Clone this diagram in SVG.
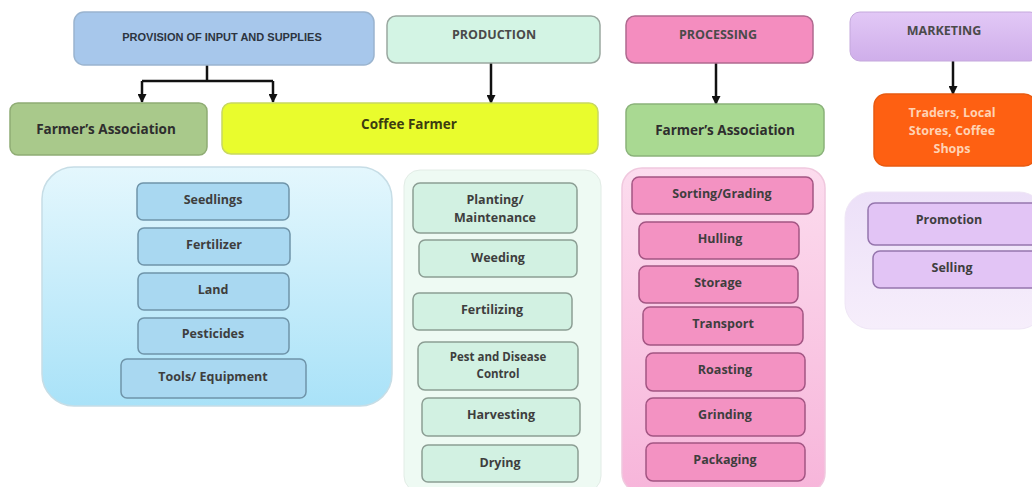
<svg xmlns="http://www.w3.org/2000/svg" width="1032" height="487" viewBox="0 0 1032 487">
<defs>
<linearGradient id="gBlue" x1="0" y1="0" x2="0" y2="1"><stop offset="0" stop-color="#e4f7fd"/><stop offset="1" stop-color="#a9e2f8"/></linearGradient>
<linearGradient id="gPink" x1="0" y1="0" x2="0" y2="1"><stop offset="0" stop-color="#fcdcee"/><stop offset="1" stop-color="#f7b5da"/></linearGradient>
<linearGradient id="gLav" x1="0" y1="0" x2="0" y2="1"><stop offset="0" stop-color="#ece0f8"/><stop offset="1" stop-color="#f6eefb"/></linearGradient>
<linearGradient id="gMkt" x1="0" y1="0" x2="0" y2="1"><stop offset="0" stop-color="#e2c8f6"/><stop offset="1" stop-color="#cfaeea"/></linearGradient>
<marker id="ah" viewBox="0 0 10 10" refX="9" refY="5" markerWidth="10" markerHeight="9" markerUnits="userSpaceOnUse" orient="auto">
<path d="M0,0 L10,5 L0,10 Z" fill="#111"/>
</marker>
</defs>
<style>
text{font-family:"Open Sans","Liberation Sans",sans-serif;font-weight:700;fill:#3e3e3e;text-anchor:middle;dominant-baseline:central;font-size:12.5px}
.hdr{font-family:"Liberation Sans",Arial,sans-serif;font-size:11px;fill:#2c3440}
.cap{font-size:12.5px;fill:#4a4a4a}
.big{font-size:13.5px;fill:#2e2e2e}
.olive{fill:#3c3c10}
.wt{fill:#ffd2b4;font-size:12.5px}
.conn{stroke:#111;stroke-width:2.5;fill:none}
.bItem{fill:#a9d8f1;stroke:#6f94a9;stroke-width:1.5}
.gItem{fill:#d2f1e2;stroke:#8c9e94;stroke-width:1.5}
.pItem{fill:#f392c2;stroke:#a35583;stroke-width:1.5}
.lItem{fill:#e2c4f5;stroke:#9575ad;stroke-width:1.5}
</style>

<g id="containers">
<rect id="blueBox" x="42" y="167" width="350" height="239" rx="32" fill="url(#gBlue)" stroke="#c6dde6" stroke-width="1.5"/>
<rect id="greenBox" x="404" y="170" width="197" height="322" rx="16" fill="#eefaf3" stroke="#e2ece6" stroke-width="1"/>
<rect id="pinkBox" x="622" y="168" width="203" height="325" rx="20" fill="url(#gPink)" stroke="#f0c8de" stroke-width="1.5"/>
<rect id="lavBox" x="845" y="192" width="200" height="137" rx="26" fill="url(#gLav)" stroke="#efe6f6" stroke-width="1"/>
</g>

<g id="connectors">
<path class="conn" d="M207,65 V81"/>
<path class="conn" d="M142,81 H273"/>
<path class="conn" d="M142,81 V102" marker-end="url(#ah)"/>
<path class="conn" d="M273,81 V102" marker-end="url(#ah)"/>
<path class="conn" d="M491,63 V103" marker-end="url(#ah)"/>
<path class="conn" d="M716,63 V104" marker-end="url(#ah)"/>
<path class="conn" d="M953,61 V94" marker-end="url(#ah)"/>
</g>

<g id="provision"><rect x="74" y="12" width="300" height="53" rx="10" fill="#a7c7eb" stroke="#9ab4cf" stroke-width="1.5"/><text class="hdr" x="222" y="37">PROVISION OF INPUT AND SUPPLIES</text></g>
<g id="production"><rect x="387" y="16" width="213" height="47" rx="9" fill="#d3f4e4" stroke="#9aa8a0" stroke-width="1.5"/><text class="cap" x="494" y="34">PRODUCTION</text></g>
<g id="processing"><rect x="626" y="16" width="187" height="47" rx="9" fill="#f48dbf" stroke="#b06a90" stroke-width="1.5"/><text class="cap" x="718" y="34">PROCESSING</text></g>
<g id="marketing"><rect x="850" y="12" width="190" height="49" rx="10" fill="url(#gMkt)" stroke="#c4a8dc" stroke-width="1"/><text class="cap" x="944" y="30">MARKETING</text></g>

<g id="farmersAssoc1"><rect x="10" y="103" width="197" height="52" rx="8" fill="#a9c98b" stroke="#8fac74" stroke-width="1.5"/><text class="big" x="106" y="129">Farmer’s Association</text></g>
<g id="coffeeFarmer"><rect x="222" y="103" width="376" height="51" rx="9" fill="#e9fc2d" stroke="#c8d860" stroke-width="1.5"/><text class="big olive" x="409" y="124">Coffee Farmer</text></g>
<g id="farmersAssoc2"><rect x="626" y="104" width="198" height="52" rx="8" fill="#a9d992" stroke="#8ab27a" stroke-width="1.5"/><text class="big" x="725" y="130">Farmer’s Association</text></g>
<g id="traders"><rect x="874" y="94" width="162" height="72" rx="12" fill="#fe6012" stroke="#e85a10" stroke-width="1.5"/><text class="wt" x="952" y="112">Traders, Local</text><text class="wt" x="952" y="130">Stores, Coffee</text><text class="wt" x="952" y="148">Shops</text></g>

<g id="seedlings"><rect class="bItem" x="137" y="183" width="152" height="37" rx="6"/><text x="213" y="199">Seedlings</text></g>
<g id="fertilizer"><rect class="bItem" x="138" y="228" width="152" height="37" rx="6"/><text x="214" y="244">Fertilizer</text></g>
<g id="land"><rect class="bItem" x="138" y="273" width="151" height="37" rx="6"/><text x="213" y="289">Land</text></g>
<g id="pesticides"><rect class="bItem" x="138" y="318" width="151" height="36" rx="6"/><text x="213" y="333">Pesticides</text></g>
<g id="tools"><rect class="bItem" x="121" y="359" width="185" height="39" rx="6"/><text x="213" y="376">Tools/ Equipment</text></g>

<g id="planting"><rect class="gItem" x="413" y="183" width="164" height="50" rx="7"/><text x="495" y="199">Planting/</text><text x="495" y="217">Maintenance</text></g>
<g id="weeding"><rect class="gItem" x="419" y="240" width="158" height="37" rx="6"/><text x="498" y="257">Weeding</text></g>
<g id="fertilizing"><rect class="gItem" x="413" y="293" width="159" height="37" rx="6"/><text x="492" y="309">Fertilizing</text></g>
<g id="pest"><rect class="gItem" x="418" y="342" width="160" height="48" rx="7"/><text x="498" y="356" style="font-size:11.5px">Pest and Disease</text><text x="498" y="373" style="font-size:11.5px">Control</text></g>
<g id="harvesting"><rect class="gItem" x="422" y="398" width="158" height="38" rx="6"/><text x="501" y="414">Harvesting</text></g>
<g id="drying"><rect class="gItem" x="422" y="445" width="156" height="37" rx="6"/><text x="500" y="462">Drying</text></g>

<g id="sorting"><rect class="pItem" x="632" y="177" width="181" height="37" rx="7"/><text x="722" y="193">Sorting/Grading</text></g>
<g id="hulling"><rect class="pItem" x="639" y="222" width="160" height="37" rx="7"/><text x="720" y="238">Hulling</text></g>
<g id="storage"><rect class="pItem" x="639" y="266" width="159" height="37" rx="7"/><text x="718" y="282">Storage</text></g>
<g id="transport"><rect class="pItem" x="643" y="307" width="160" height="38" rx="7"/><text x="723" y="323">Transport</text></g>
<g id="roasting"><rect class="pItem" x="646" y="353" width="159" height="38" rx="7"/><text x="725" y="369">Roasting</text></g>
<g id="grinding"><rect class="pItem" x="646" y="398" width="159" height="38" rx="7"/><text x="725" y="414">Grinding</text></g>
<g id="packaging"><rect class="pItem" x="646" y="443" width="159" height="38" rx="7"/><text x="725" y="459">Packaging</text></g>

<g id="promotion"><rect class="lItem" x="868" y="203" width="172" height="42" rx="7"/><text x="949" y="219">Promotion</text></g>
<g id="selling"><rect class="lItem" x="873" y="251" width="167" height="37" rx="7"/><text x="952" y="267">Selling</text></g>
</svg>
